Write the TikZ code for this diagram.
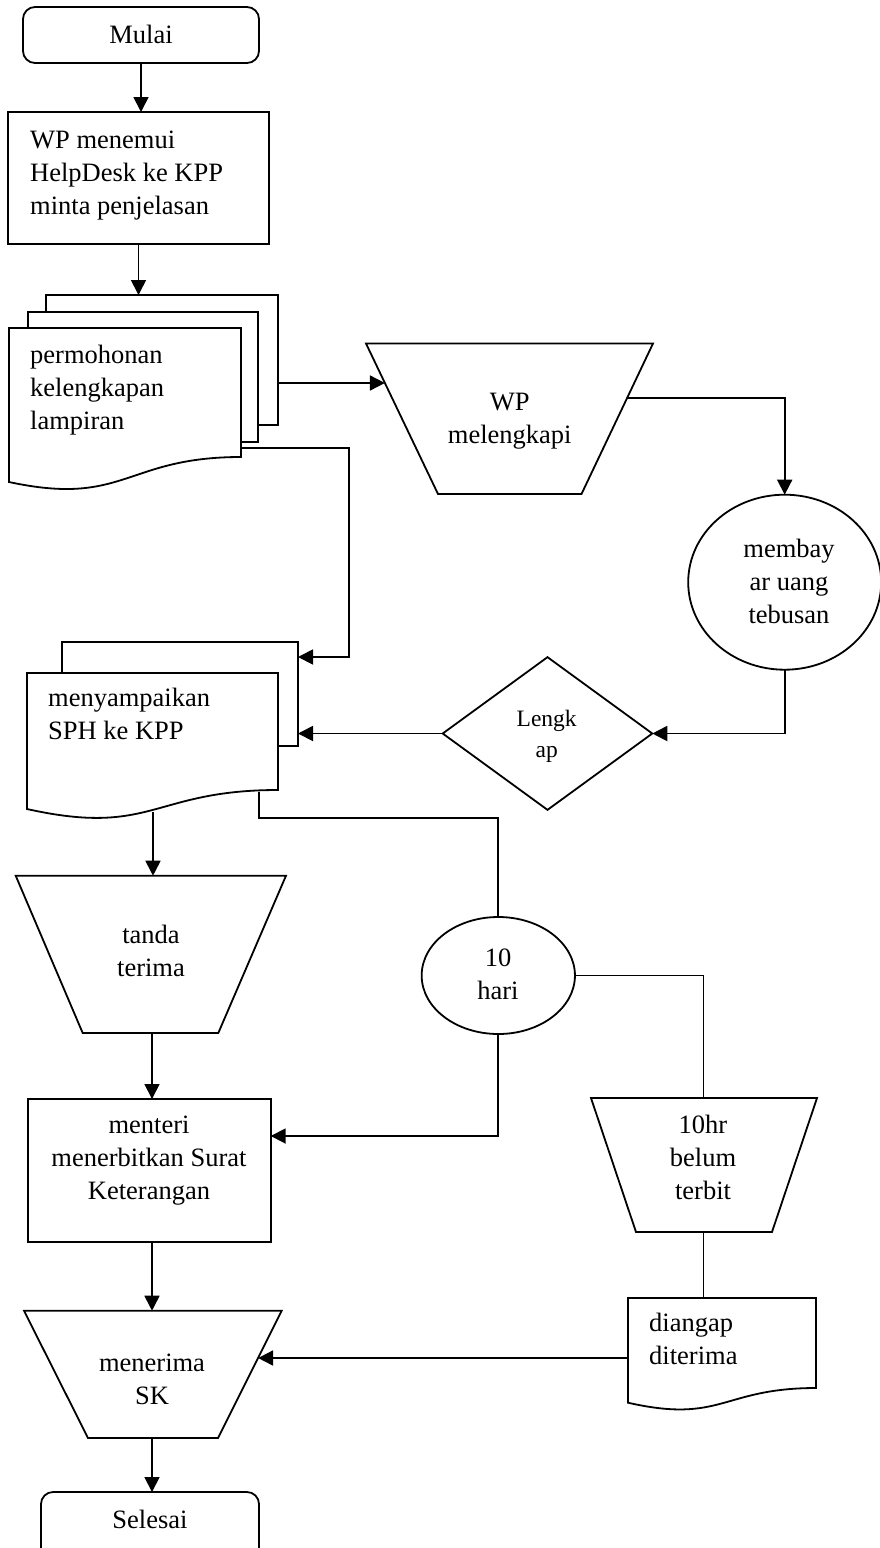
\documentclass[tikz,border=0pt]{standalone}
\usepackage{fontspec}
\setmainfont{Liberation Serif}
\usetikzlibrary{shapes.geometric,arrows.meta,calc}
\newcommand\fbig{\fontsize{26.5}{33}\selectfont}
\newcommand\fsm{\fontsize{23.5}{30.7}\selectfont}
\begin{document}
\begin{tikzpicture}[x=1pt,y=-1pt,
  shp/.style={draw=black, line width=1.8pt, fill=white, inner sep=0pt, outer sep=0pt},
  pg/.style={draw=black, line width=1.8pt, fill=white, line join=miter},
  term/.style={shp, rounded corners=12pt},
  ell/.style={shp, ellipse},
  dia/.style={shp, diamond},
  conn/.style={line width=1.8pt},
  arr/.style={conn, -{Triangle[length=15pt,width=15pt]}},
  lbl/.style={inner sep=0pt, font=\fbig},
]
\useasboundingbox (0,0) rectangle (880,1548);

% Mulai
\node[term, minimum width=236pt, minimum height=56pt] (mulai) at (141,35) {};
\node[lbl] (tmulai) at (141,37) {\strut Mulai};

% box 1
\node[shp, minimum width=261pt, minimum height=132pt] (box1) at (138.5,178) {};
\node[lbl, align=left, anchor=west] (tbox1) at (30,175) {\strut WP menemui\\\strut HelpDesk ke KPP\\\strut minta penjelasan};

% document stack 1
\node[shp, minimum width=232pt, minimum height=130pt] (d1back) at (162,360) {};
\node[shp, minimum width=230pt, minimum height=130pt] (d1mid) at (143,377) {};
\draw[pg] (9,328) -- (241,328) -- (241,457) .. controls (125,457) and (125,507) .. (9,482) -- cycle;
\coordinate (d1r) at (241,448);
\node[lbl, align=left, anchor=west] (td1) at (30,390) {\strut permohonan\\\strut kelengkapan\\\strut lampiran};

% WP melengkapi (manual trapezoid)
\coordinate (wp-tl) at (366,343.5);
\coordinate (wp-tr) at (653,343.5);
\coordinate (wp-br) at (581.5,494);
\coordinate (wp-bl) at (438,494);
\draw[pg] (wp-tl) -- (wp-tr) -- (wp-br) -- (wp-bl) -- cycle;
\coordinate (wp-in) at (384.9,383);
\coordinate (wp-out) at (627.1,398);
\node[lbl, align=center] (twp) at (509.75,420.5) {\strut WP\\\strut melengkapi};

% membayar
\node[ell, minimum width=193pt, minimum height=175pt] (pay) at (784.7,582.2) {};
\node[lbl, align=center] (tpay) at (789,584) {\strut membay\\\strut ar uang\\\strut tebusan};

% Lengkap
\node[dia, minimum width=209.6pt, minimum height=152.7pt] (lk) at (547.5,733.5) {};
\node[inner sep=0pt, font=\fsm, align=center] (tlk) at (546.7,736) {\strut Lengk\\\strut ap};

% document stack 2
\node[shp, minimum width=236pt, minimum height=104pt] (d2back) at (180,694) {};
\draw[pg] (27,673) -- (278,673) -- (278,790) .. controls (152.5,790) and (152.5,837) .. (27,809) -- cycle;
\coordinate (d2b) at (153,812);
\coordinate (d2c) at (259.3,791.5);
\node[lbl, align=left, anchor=west] (td2) at (48,716) {\strut menyampaikan\\\strut SPH ke KPP};

% tanda terima
\coordinate (ta-tl) at (15.7,875.7);
\coordinate (ta-tr) at (286,875.7);
\coordinate (ta-br) at (218.3,1033);
\coordinate (ta-bl) at (82.7,1033);
\draw[pg] (ta-tl) -- (ta-tr) -- (ta-br) -- (ta-bl) -- cycle;
\coordinate (ta-top) at (152,875.7);
\coordinate (ta-bot) at (152,1033);
\node[lbl, align=center] (ttanda) at (151,953) {\strut tanda\\\strut terima};

% 10 hari
\node[ell, minimum width=153.3pt, minimum height=117pt] (hari) at (498.3,975.5) {};
\node[lbl, align=center] (thari) at (498,976.5) {\strut 10\\\strut hari};

% 10hr belum terbit
\coordinate (hr-tl) at (591,1098);
\coordinate (hr-tr) at (817,1098);
\coordinate (hr-br) at (772,1232);
\coordinate (hr-bl) at (636,1232);
\draw[pg] (hr-tl) -- (hr-tr) -- (hr-br) -- (hr-bl) -- cycle;
\coordinate (hr-top) at (703.5,1098);
\coordinate (hr-bot) at (703.5,1232);
\node[lbl, align=center] (thr) at (703,1159.5) {\strut 10hr\\\strut belum\\\strut terbit};

% menteri
\node[shp, minimum width=243pt, minimum height=143pt] (menteri) at (149.2,1170.5) {};
\node[lbl, align=center] (tmenteri) at (149,1159.5) {\strut menteri\\\strut menerbitkan Surat\\\strut Keterangan};

% menerima SK
\coordinate (se-tl) at (24,1310.7);
\coordinate (se-tr) at (281.7,1310.7);
\coordinate (se-br) at (218,1438);
\coordinate (se-bl) at (88,1438);
\draw[pg] (se-tl) -- (se-tr) -- (se-br) -- (se-bl) -- cycle;
\coordinate (se-top) at (152,1310.7);
\coordinate (se-bot) at (152,1438);
\coordinate (se-in) at (258.1,1358);
\node[lbl, align=center] (tser) at (152,1381) {\strut menerima\\\strut SK};

% diangap diterima
\draw[pg] (628,1298) -- (816,1298) -- (816,1388) .. controls (722,1388) and (722,1424) .. (628,1402.7) -- cycle;
\coordinate (d3t) at (703.5,1298);
\coordinate (d3l) at (628,1358);
\node[lbl, align=left, anchor=west] (td3) at (649,1341.5) {\strut diangap\\\strut diterima};

% Selesai
\node[term, minimum width=218pt, minimum height=80pt] (sel) at (150,1532) {};
\node[lbl] (tsel) at (150,1521.7) {\strut Selesai};

% connectors
\draw[arr] (mulai.south) -- (mulai.south |- box1.north);
\draw[arr] (box1.south) -- (box1.south |- d1back.north);
\draw[arr] (d1back.east |- wp-in) -- (wp-in);
\draw[arr] (wp-out) -| (pay.north);
\draw[arr] (pay.south) |- (lk.east);
\draw[arr] (lk.west) -- (lk.west -| d2back.east);
\draw[arr] (d1r) -- ++(108,0) |- ([yshift=-15pt]d2back.north east);
\draw[arr] (d2b) -- (d2b |- ta-top);
\draw[conn] (d2c) -- ++(0,26.5) -| (hari.north);
\draw[conn] (hari.east) -| (hr-top);
\draw[arr] (hari.south) |- ([yshift=34.5pt]menteri.east);
\draw[arr] (ta-bot) -- (ta-bot |- menteri.north);
\draw[arr] (menteri.south -| se-top) -- (se-top);
\draw[conn] (hr-bot) -- (d3t);
\draw[arr] (d3l) -- (se-in);
\draw[arr] (se-bot) -- (se-bot |- sel.north);
\end{tikzpicture}
\end{document}
